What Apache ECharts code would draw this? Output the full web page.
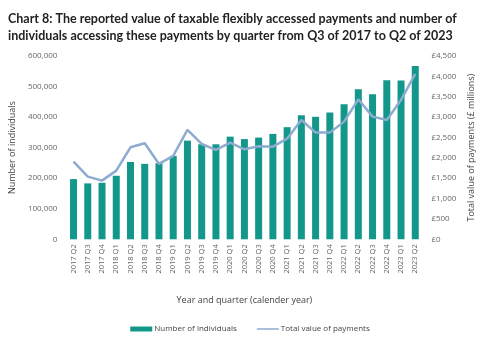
<!DOCTYPE html>
<html><head><meta charset="utf-8">
<script src="https://cdn.jsdelivr.net/npm/echarts@6/dist/echarts.min.js"></script>
<style>html,body{margin:0;padding:0;background:#fff}#c{width:500px;height:348px}</style>
</head><body><div id="c"></div>
<script>
const categories = ["2017 Q2","2017 Q3","2017 Q4","2018 Q1","2018 Q2","2018 Q3","2018 Q4","2019 Q1","2019 Q2","2019 Q3","2019 Q4","2020 Q1","2020 Q2","2020 Q3","2020 Q4","2021 Q1","2021 Q2","2021 Q3","2021 Q4","2022 Q1","2022 Q2","2022 Q3","2022 Q4","2023 Q1","2023 Q2"];
const individuals = [197000,183000,185000,208000,253000,247000,249000,273000,323000,311000,311000,336000,328000,333000,345000,367000,406000,401000,415000,442000,491000,475000,521000,520000,567000];
const payments = [1906,1538,1440,1686,2259,2357,1850,2046,2684,2340,2193,2373,2209,2285,2275,2471,2930,2619,2619,2889,3437,3011,2930,3421,4059];
const leftTicks = {min:0,max:600000,interval:100000};
const rightTicks = {min:0,max:4500,interval:500};

const chart = echarts.init(document.getElementById('c'));
const lab = {color:'#666',fontSize:8,fontFamily:'Open Sans'};
chart.setOption({
  animation:false,
  title:{text:'Chart 8: The reported value of taxable flexibly accessed payments and number of\nindividuals accessing these payments by quarter from Q3 of 2017 to Q2 of 2023',
    left:3,top:5,textStyle:{fontSize:12.5,fontWeight:'bold',color:'#222',fontFamily:'Lato',lineHeight:17}},
  grid:{left:65.5,right:77.6,top:56,bottom:108.7},
  legend:{bottom:10,left:'center',itemGap:20,itemWidth:22,itemHeight:5,textStyle:{color:'#444',fontSize:8,fontFamily:'Open Sans',padding:[0,0,0,-3]},
    data:[{name:'Number of individuals',icon:'rect'},{name:'Total value of payments',icon:'path://M0,0 L22,0 L22,1.5 L0,1.5 Z'}]},
  xAxis:{type:'category',data:categories,name:'Year and quarter (calender year)',nameLocation:'middle',nameGap:57,
    nameTextStyle:{color:'#444',fontSize:9,fontFamily:'Open Sans'},
    axisLine:{show:false},axisTick:{show:false},
    axisLabel:Object.assign({},lab,{rotate:90,interval:0,margin:5,fontSize:7.5})},
  yAxis:[
    Object.assign({type:'value',position:'left',name:'Number of individuals',nameLocation:'middle',nameGap:41,
      nameTextStyle:{color:'#444',fontSize:9,fontFamily:'Open Sans'},
      splitLine:{show:false},axisLine:{show:false},axisTick:{show:false},
      axisLabel:Object.assign({margin:9,formatter:v=>v.toLocaleString('en-GB')},lab)},leftTicks),
    Object.assign({type:'value',position:'right',name:'Total value of payments (£ millions)',nameLocation:'middle',nameGap:38,
      nameTextStyle:{color:'#444',fontSize:9,fontFamily:'Open Sans'},
      splitLine:{show:false},axisLine:{show:false},axisTick:{show:false},
      axisLabel:Object.assign({margin:9,formatter:v=>'£'+v.toLocaleString('en-GB')},lab)},rightTicks)
  ],
  series:[
    {name:'Number of individuals',type:'bar',data:individuals,barWidth:7,itemStyle:{color:'#13978a'}},
    {name:'Total value of payments',type:'line',yAxisIndex:1,data:payments,symbol:'none',
      lineStyle:{color:'#8eabd0',width:2.5},itemStyle:{color:'#8eabd0'}}
  ]
});
</script></body></html>
